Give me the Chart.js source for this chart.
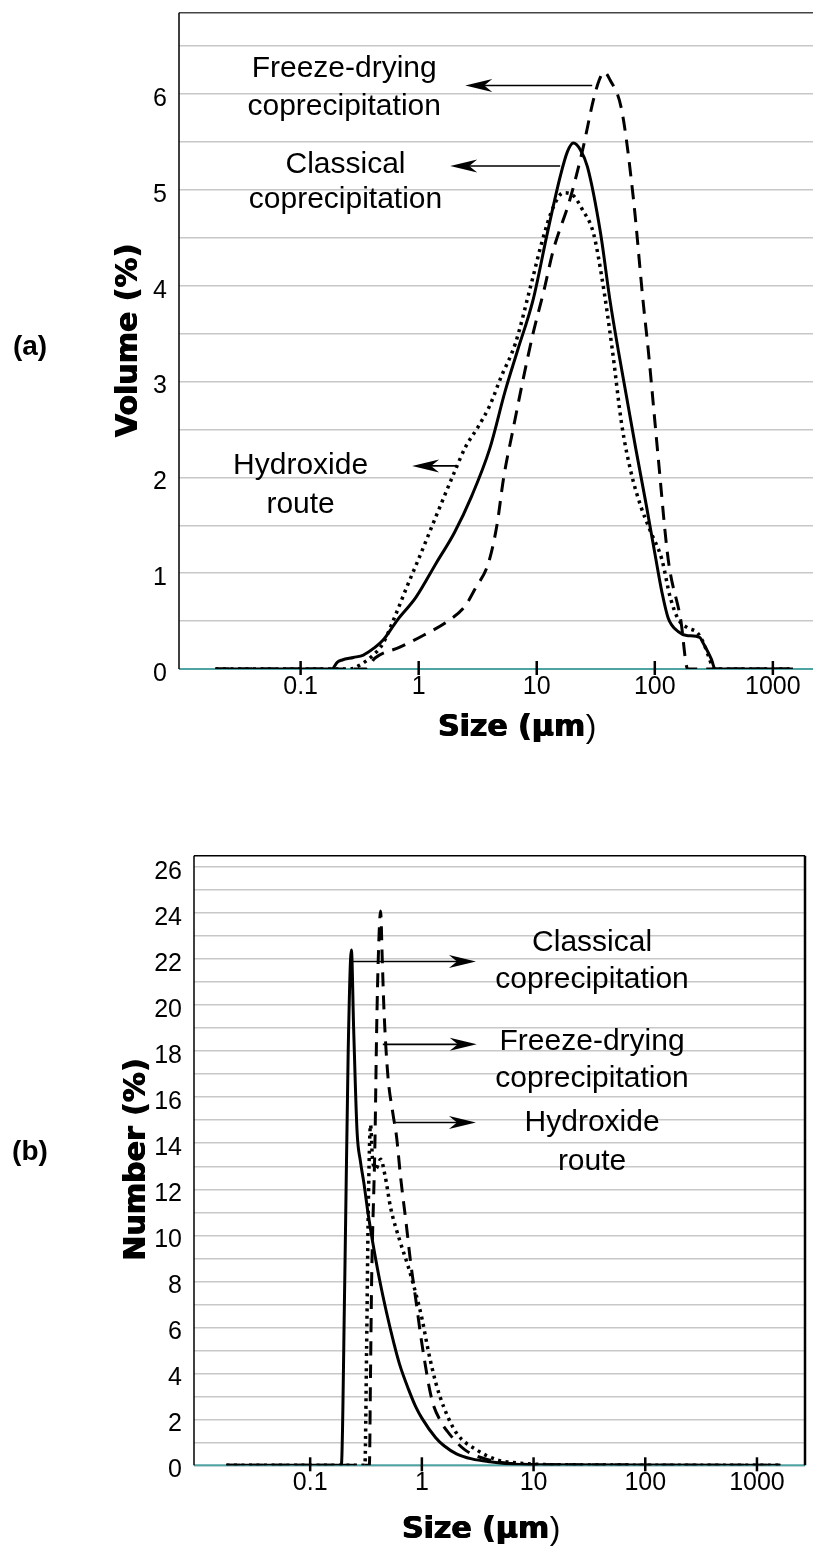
<!DOCTYPE html>
<html>
<head>
<meta charset="utf-8">
<script src="https://cdn.jsdelivr.net/npm/chart.js@4.4.1/dist/chart.umd.min.js"></script>
<style>
  html, body { margin: 0; padding: 0; background: #fff; }
  body { width: 813px; height: 1548px; position: relative; overflow: hidden; }
  canvas { position: absolute; left: 0; }
  #chartA { top: 0; }
  #chartB { top: 770px; }
</style>
</head>
<body>
<canvas id="chartA" width="813" height="770"></canvas>
<canvas id="chartB" width="813" height="778"></canvas>
<script>
/* (a) volume distribution, size in µm, volume in % */
const volClassicalSize = [0.019, 0.184, 0.204, 0.225, 0.28, 0.34, 0.42, 0.50, 0.66, 0.95, 1.41, 2.0, 2.8, 4.0, 5.4, 6.9, 9.3, 12.3, 15.8, 18.2, 20.4, 23.4, 26.9, 34.7, 41.7, 49, 57.5, 69, 85, 102, 115, 130, 158, 186, 240, 257, 302, 324, 1480];
const volClassical     = [0, 0, 0.07, 0.094, 0.12, 0.146, 0.22, 0.303, 0.511, 0.75, 1.107, 1.42, 1.8, 2.3, 2.9, 3.33, 3.85, 4.55, 5.14, 5.4, 5.49, 5.42, 5.24, 4.55, 3.85, 3.33, 2.85, 2.3, 1.7, 1.15, 0.8, 0.53, 0.39, 0.35, 0.33, 0.27, 0.1, 0, 0];

const volFreezeSize = [0.019, 0.355, 0.427, 0.70, 1.11, 1.82, 2.48, 3.0, 3.9, 4.6, 5.25, 6.3, 7.6, 9.3, 11.5, 13.8, 19.1, 24.5, 30.2, 33.9, 37.2, 41.7, 52.5, 66, 79.4, 88, 107, 130, 166, 190, 1480];
const volFreeze     = [0, 0, 0.115, 0.23, 0.355, 0.51, 0.66, 0.835, 1.107, 1.5, 2.0, 2.5, 3.0, 3.5, 3.95, 4.37, 4.9, 5.42, 5.94, 6.15, 6.23, 6.15, 5.83, 4.9, 3.85, 3.33, 2.2, 1.14, 0.51, 0, 0];

const volHydroxideSize = [0.019, 0.263, 0.316, 0.40, 0.50, 0.63, 0.79, 1.0, 1.41, 2.0, 2.5, 3.16, 4.0, 5.0, 6.6, 8.9, 11.2, 13.8, 16.8, 20, 24.5, 30.2, 36, 43.7, 52.5, 63, 76, 91, 115, 135, 158, 190, 229, 257, 288, 316, 1480];
const volHydroxide     = [0, 0, 0.04, 0.13, 0.27, 0.55, 0.85, 1.15, 1.6, 2.05, 2.32, 2.52, 2.75, 3.05, 3.4, 4.0, 4.48, 4.82, 4.97, 4.95, 4.79, 4.55, 4.05, 3.33, 2.55, 2.05, 1.7, 1.45, 1.14, 0.75, 0.52, 0.43, 0.38, 0.28, 0.12, 0, 0];

/* (b) number distribution, size in µm, number in % */
const numClassicalSize = [0.0178, 0.19, 0.204, 0.219, 0.234, 0.245, 0.263, 0.282, 0.302, 0.331, 0.363, 0.417, 0.485, 0.562, 0.631, 0.76, 0.88, 1.0, 1.33, 1.58, 2.04, 2.8, 4.07, 6.3, 10, 1620];
const numClassical     = [0, 0, 8, 18, 22.4, 19, 14.5, 13.2, 12.3, 10.9, 9.7, 8.1, 6.6, 5.3, 4.4, 3.3, 2.55, 2.05, 1.2, 0.85, 0.5, 0.28, 0.15, 0.06, 0.02, 0];

const numFreezeSize = [0.0178, 0.339, 0.347, 0.355, 0.38, 0.394, 0.407, 0.427, 0.442, 0.457, 0.495, 0.55, 0.593, 0.646, 0.724, 0.794, 0.883, 1.0, 1.23, 1.48, 1.74, 2.43, 3.98, 6.3, 10, 1620];
const numFreeze     = [0, 0, 4, 8, 14, 19, 22, 24.1, 22, 19.9, 17, 15.3, 14.3, 12.5, 10.5, 8.8, 7.2, 5.3, 2.85, 1.9, 1.4, 0.67, 0.23, 0.08, 0.03, 0];

const numHydroxideSize = [0.0178, 0.309, 0.32, 0.331, 0.347, 0.363, 0.389, 0.427, 0.468, 0.525, 0.631, 0.759, 0.89, 1.0, 1.15, 1.33, 1.58, 2.04, 3.09, 4.79, 7.2, 10, 20, 1620];
const numHydroxide     = [0, 0, 5, 11, 14.8, 13.2, 12.9, 13.3, 12.6, 11.2, 9.8, 8.6, 7.4, 6.4, 4.9, 3.6, 2.5, 1.4, 0.67, 0.23, 0.1, 0.05, 0.02, 0];

/* ticks */
const sizeTicks = [0.1, 1, 10, 100, 1000];
const volTicks = [0, 0.5, 1, 1.5, 2, 2.5, 3, 3.5, 4, 4.5, 5, 5.5, 6, 6.5];
const numTicks = [0, 1, 2, 3, 4, 5, 6, 7, 8, 9, 10, 11, 12, 13, 14, 15, 16, 17, 18, 19, 20, 21, 22, 23, 24, 25, 26];

/* annotation texts (positions in data units) */
const notesA = [
    { lines: ["Freeze-drying", "coprecipitation"], x: 0.234, y: [6.27, 5.87], from: 29.5, to: 2.48, arrowY: 6.09 },
    { lines: ["Classical", "coprecipitation"], x: 0.24, y: [5.26, 4.9], from: 15.8, to: 1.85, arrowY: 5.25 },
    { lines: ["Hydroxide", "route"], x: 0.1, y: [2.12, 1.71], from: 2.12, to: 0.88, arrowY: 2.12 },
];
const notesB = [
    { lines: ["Classical", "coprecipitation"], x: 33.4, y: [22.7, 21.1], from: 0.241, to: 3.05, arrowY: 21.9 },
    { lines: ["Freeze-drying", "coprecipitation"], x: 33.4, y: [18.4, 16.8], from: 0.447, to: 3.1, arrowY: 18.3 },
    { lines: ["Hydroxide", "route"], x: 33.4, y: [14.9, 13.2], from: 0.58, to: 3.05, arrowY: 14.9 },
];

function pts(sz, v){ return sz.map((s, i) => ({ x: s, y: v[i] })); }

function line(ctx, x0, y0, x1, y1){
    ctx.beginPath();
    ctx.moveTo(x0, y0);
    ctx.lineTo(x1, y1);
    ctx.stroke();
}

function arrow(ctx, x0, x1, yy){
    let dir = Math.sign(x1 - x0);
    ctx.lineWidth = 1.6;
    line(ctx, x0, yy, x1 - dir * 12, yy);
    ctx.beginPath();
    ctx.moveTo(x1, yy);
    ctx.lineTo(x1 - dir * 27, yy - 6.5);
    ctx.lineTo(x1 - dir * 19, yy);
    ctx.lineTo(x1 - dir * 27, yy + 6.5);
    ctx.closePath();
    ctx.fill();
}

// faux black weight: a few fills shifted along the text
function heavyText(ctx, s, x, y){
    [0, 0.6, 1.2].forEach((dx) => ctx.fillText(s, x + dx, y));
}

const decor = {
    id: "decor",
    beforeDatasetsDraw(chart, args, opts){
        const { ctx, chartArea: a } = chart;
        ctx.save();
        ctx.strokeStyle = "#4fa3a3";
        ctx.lineWidth = 2;
        line(ctx, a.left, a.bottom, a.right, a.bottom);
        ctx.strokeStyle = opts.topColor;
        ctx.lineWidth = 1.5;
        line(ctx, a.left, a.top, a.right, a.top);
        ctx.strokeStyle = "#000";
        line(ctx, a.left, a.top, a.left, a.bottom);
        if(opts.rightBorder){
            ctx.lineWidth = 2.5;
            line(ctx, a.right, a.top, a.right, a.bottom);
        }
        ctx.restore();
    },
    afterDraw(chart, args, opts){
        const { ctx, chartArea: a } = chart;
        const x = chart.scales.x, y = chart.scales.y;
        ctx.save();
        ctx.strokeStyle = "#000";
        ctx.fillStyle = "#000";
        ctx.lineWidth = 2.5;
        x.ticks.forEach((t) => {
            let px = x.getPixelForValue(t.value);
            line(ctx, px, a.bottom - 8, px, a.bottom + 6);
        });

        ctx.font = '30px "Liberation Sans", Arial, sans-serif';
        ctx.textAlign = "center";
        ctx.textBaseline = "middle";
        opts.notes.forEach((n) => {
            n.lines.forEach((s, i) => {
                ctx.fillText(s, x.getPixelForValue(n.x), y.getPixelForValue(n.y[i]));
            });
            arrow(ctx, x.getPixelForValue(n.from), x.getPixelForValue(n.to), y.getPixelForValue(n.arrowY));
        });

        // x title: heavy part + regular closing bracket
        let boldFont = 'bold 30px "DejaVu Sans", sans-serif';
        let thinFont = '32px "Liberation Sans", Arial, sans-serif';
        ctx.font = boldFont;
        let w1 = ctx.measureText("Size (µm").width + 1.2;
        ctx.font = thinFont;
        let w2 = ctx.measureText(")").width;
        let sx = opts.xTitle[0] - (w1 + w2) / 2;
        ctx.textAlign = "left";
        ctx.font = boldFont;
        heavyText(ctx, "Size (µm", sx, opts.xTitle[1]);
        ctx.font = thinFont;
        ctx.fillText(")", sx + w1, opts.xTitle[1]);

        // y title, rotated
        ctx.save();
        ctx.translate(opts.yTitle[0], opts.yTitle[1]);
        ctx.rotate(-Math.PI / 2);
        ctx.textAlign = "center";
        ctx.font = boldFont;
        heavyText(ctx, opts.yText, 0, 0);
        ctx.restore();

        // panel letter
        ctx.textAlign = "center";
        ctx.font = 'bold 28px "Liberation Sans", Arial, sans-serif';
        ctx.fillText(opts.panel, opts.panelPos[0], opts.panelPos[1]);
        ctx.restore();
    },
};

function makeSeries(sizeArr, valArr, dash, width){
    return {
        data: pts(sizeArr, valArr),
        borderColor: "#000",
        borderWidth: width,
        borderDash: dash,
        pointRadius: 0,
        cubicInterpolationMode: "monotone",
        fill: false,
    };
}

function makeChart(id, cfg){
    return new Chart(document.getElementById(id), {
        type: "line",
        data: { datasets: cfg.datasets },
        options: {
            responsive: false,
            animation: false,
            events: [],
            layout: { padding: cfg.padding },
            plugins: {
                legend: { display: false },
                tooltip: { enabled: false },
                decor: cfg.decor,
            },
            scales: {
                x: {
                    type: "logarithmic",
                    min: cfg.xMin,
                    max: cfg.xMax,
                    afterBuildTicks: (s) => { s.ticks = sizeTicks.map((v) => ({ value: v })); },
                    afterFit: (s) => {
                        s.height = cfg.xHeight;
                        s.paddingLeft = 0;
                        s.paddingRight = 0;
                    },
                    grid: { display: false, drawTicks: false },
                    border: { display: false },
                    ticks: {
                        color: "#000",
                        padding: 3,
                        maxRotation: 0,
                        autoSkip: false,
                        font: { family: '"Liberation Sans", Arial, sans-serif', size: 25 },
                        callback: (v) => String(v),
                    },
                },
                y: {
                    type: "linear",
                    min: 0,
                    max: cfg.yMax,
                    afterBuildTicks: (s) => { s.ticks = cfg.yTicks.map((v) => ({ value: v })); },
                    afterFit: (s) => {
                        s.width = cfg.yWidth;
                        s.paddingTop = 0;
                        s.paddingBottom = 0;
                    },
                    grid: { color: "#c8c8c8", lineWidth: 1.5, drawTicks: false },
                    border: { display: false },
                    ticks: {
                        color: "#000",
                        padding: 12,
                        labelOffset: 5,
                        autoSkip: false,
                        font: { family: '"Liberation Sans", Arial, sans-serif', size: 25, lineHeight: 1 },
                        callback: (v) => (v % cfg.labelStep === 0 ? String(v) : ""),
                    },
                },
            },
        },
        plugins: [decor],
    });
}

makeChart("chartA", {
    datasets: [
        makeSeries(volClassicalSize, volClassical, [], 3),
        makeSeries(volFreezeSize, volFreeze, [14, 9], 3),
        makeSeries(volHydroxideSize, volHydroxide, [3, 4.5], 3.5),
    ],
    padding: { top: 12.7, right: 0, bottom: 0, left: 0 },
    xMin: 0.00933, xMax: 2188, xHeight: 101,
    yMax: 6.85, yTicks: volTicks, yWidth: 179, labelStep: 1,
    decor: {
        notes: notesA, topColor: "#444", rightBorder: false,
        xTitle: [517, 728], yTitle: [129, 341], yText: "Volume (%)",
        panel: "(a)", panelPos: [30, 347],
    },
});

makeChart("chartB", {
    datasets: [
        makeSeries(numClassicalSize, numClassical, [], 3),
        makeSeries(numFreezeSize, numFreeze, [14, 9], 3),
        makeSeries(numHydroxideSize, numHydroxide, [3, 4.5], 3.5),
    ],
    padding: { top: 85.7, right: 8, bottom: 0, left: 0 },
    xMin: 0.00912, xMax: 2692, xHeight: 82.7,
    yMax: 26.5, yTicks: numTicks, yWidth: 194, labelStep: 2,
    decor: {
        notes: notesB, topColor: "#000", rightBorder: true,
        xTitle: [481, 760], yTitle: [137, 390], yText: "Number (%)",
        panel: "(b)", panelPos: [30, 382],
    },
});
</script>
</body>
</html>
